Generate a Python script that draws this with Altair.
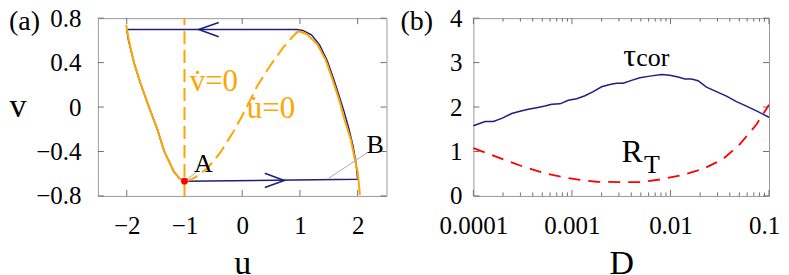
import altair as alt
import pandas as pd

# ------------------------------------------------------------------ data
panel_labels = ["(a)", "(b)"]

# panel (a): phase plane
u_ticks = [-2, -1, 0, 1, 2]
v_ticks = [-0.8, -0.4, 0, 0.4, 0.8]

# limit-cycle trajectory (in drawing order)
traj_u = [-1.0, 2.0, 1.97, 1.92, 1.85, 1.77, 1.68, 1.58, 1.47, 1.34, 1.20, 1.05, 0.95,
          -2.0, -1.97, -1.875, -1.76, -1.615, -1.47, -1.35, -1.18, -1.08, -1.0]
traj_v = [-0.667, -0.65, -0.5, -0.35, -0.2, -0.05, 0.1, 0.26, 0.42, 0.56, 0.65, 0.69, 0.697,
          0.697, 0.6, 0.4, 0.21, 0.0, -0.2, -0.4, -0.585, -0.645, -0.667]

# u-nullcline: outer branches (solid) and middle branch (dashed)
left_u = [-2.01, -1.96, -1.875, -1.76, -1.615, -1.47, -1.35, -1.18, -1.08, -1.0]
left_v = [0.74, 0.594, 0.40, 0.21, 0.0, -0.2, -0.4, -0.585, -0.645, -0.667]
mid_u = [-1.0, -0.9, -0.8, -0.6, -0.38, -0.15, 0.05, 0.25, 0.48, 0.71, 0.88, 0.95]
mid_v = [-0.667, -0.655, -0.628, -0.55, -0.41, -0.22, -0.03, 0.18, 0.37, 0.535, 0.637, 0.67]
right_u = [0.92, 1.0, 1.13, 1.30, 1.45, 1.57, 1.68, 1.77, 1.88, 1.94, 2.0, 2.04]
right_v = [0.672, 0.68, 0.653, 0.565, 0.42, 0.24, 0.065, -0.11, -0.29, -0.44, -0.585, -0.79]

# v-nullcline (vertical)
vnull_u = [-1.0, -1.0]
vnull_v = [-0.8, 0.8]

# direction arrows on the cycle
arrow_left_u, arrow_left_v = [-0.58], [0.697]
arrow_right_u, arrow_right_v = [0.56], [-0.66]

# fixed point A and leader lines
fixed_u, fixed_v = [-1.0], [-0.667]
leadA_u, leadA_v = [-1.0, -0.79], [-0.667, -0.585]
leadB_u, leadB_v = [1.5, 2.17], [-0.64, -0.41]

null_text = ["v\u0307=0", "u\u0307=0"]
null_u = [-0.91, 0.08]
null_v = [0.14, -0.10]
pt_text = ["A", "B"]
pt_u = [-0.834, 2.154]
pt_v = [-0.586, -0.417]

# panel (b): tau_cor and R_T versus D
D_ticks = [0.0001, 0.001, 0.01, 0.1]
D_minor = [0.0002, 0.0003, 0.0004, 0.0005, 0.0006, 0.0007, 0.0008, 0.0009,
           0.002, 0.003, 0.004, 0.005, 0.006, 0.007, 0.008, 0.009,
           0.02, 0.03, 0.04, 0.05, 0.06, 0.07, 0.08, 0.09]
b_yticks = [0, 1, 2, 3, 4]

tau_D = [1.0e-4, 1.314e-4, 1.595e-4, 1.940e-4, 2.449e-4, 2.973e-4, 3.609e-4, 4.390e-4,
         5.330e-4, 6.232e-4, 7.563e-4, 9.180e-4, 1.117e-3, 1.356e-3, 1.645e-3, 2.001e-3,
         2.428e-3, 2.840e-3, 3.312e-3, 4.030e-3, 4.892e-3, 6.177e-3, 8.108e-3, 9.851e-3,
         1.196e-2, 1.398e-2, 1.634e-2, 1.907e-2, 2.319e-2, 2.929e-2, 3.699e-2, 4.670e-2,
         5.899e-2, 7.450e-2, 0.1]
tau_val = [1.58, 1.674, 1.674, 1.746, 1.855, 1.906, 1.949, 1.986,
           2.022, 2.065, 2.072, 2.152, 2.188, 2.254, 2.348, 2.457,
           2.507, 2.536, 2.536, 2.601, 2.659, 2.696, 2.732, 2.717,
           2.674, 2.630, 2.630, 2.594, 2.449, 2.348, 2.246, 2.123,
           2.022, 1.913, 1.77]

rt_D = [1.0e-4, 1.314e-4, 2.095e-4, 3.342e-4, 5.330e-4, 8.50e-4, 1.206e-3, 1.780e-3,
        3.067e-3, 4.892e-3, 7.80e-3, 1.294e-2, 2.143e-2, 3.418e-2, 5.047e-2, 7.45e-2, 0.1]
rt_val = [1.074, 0.978, 0.807, 0.644, 0.511, 0.415, 0.363, 0.319,
          0.311, 0.311, 0.370, 0.467, 0.607, 0.830, 1.163, 1.607, 2.052]

b_text_big = ["\u03c4", "R"]
b_text_big_D = [3.31e-3, 3.19e-3]
b_text_big_val = [2.93, 0.76]
b_text_sub = ["cor", "T"]
b_text_sub_D = [4.5e-3, 5.4e-3]
b_text_sub_val = [2.93, 0.52]

# ------------------------------------------------------------------ style
W_A, W_B, H = 289, 296, 178
FONT = "Liberation Serif, Times New Roman, Times, serif"
BLUE = "#1f1f7f"
ORANGE = "#ffa500"
RED = "#ff0000"
FRAME = "#9a9a9a"
TICK = "#707070"
LEAD = "#aaaaaa"

xs_a = alt.Scale(domain=[-2.5, 2.5], nice=False, zero=False)
ys_a = alt.Scale(domain=[-0.8, 0.8], nice=False, zero=False)
xs_b = alt.Scale(type="log", domain=[0.0001, 0.1], nice=False)
ys_b = alt.Scale(domain=[0, 4], nice=False, zero=False)

ax_xa = alt.Axis(values=u_ticks, format="~g", ticks=False, domain=False, grid=False,
                 labelFlush=False, labelPadding=17.5, title="u", titleY=77.5,
                 titleBaseline="alphabetic")
ax_ya = alt.Axis(values=v_ticks, format="~g", ticks=False, domain=False, grid=False,
                 labelFlush=False, labelPadding=17, title="v", titleAngle=0, titleAlign="left",
                 titleBaseline="alphabetic", titleX=-89, titleY=98)
ax_xb = alt.Axis(values=D_ticks, format="~g", ticks=False, domain=False, grid=False,
                 labelFlush=False, labelPadding=17.5,
                 labelOffset={"condition": {"test": "datum.value > 0.05", "value": -5}, "value": 0},
                 title="D", titleY=77.5, titleBaseline="alphabetic")
ax_yb = alt.Axis(values=b_yticks, format="~g", ticks=False, domain=False, grid=False,
                 labelFlush=False, labelPadding=11.5, title="")


def frame(us, vs, xname="u", yname="v"):
    return pd.DataFrame({xname: us, yname: vs, "i": list(range(len(us)))})


def xa(field="u"):
    return alt.X(f"{field}:Q", scale=xs_a, axis=ax_xa)


def ya(field="v"):
    return alt.Y(f"{field}:Q", scale=ys_a, axis=ax_ya)


def xb(field="D"):
    return alt.X(f"{field}:Q", scale=xs_b, axis=ax_xb)


def yb(field="val"):
    return alt.Y(f"{field}:Q", scale=ys_b, axis=ax_yb)


# ------------------------------------------------------------------ panel (a)
utick_df = pd.DataFrame({"t": u_ticks})
vtick_df = pd.DataFrame({"t": v_ticks})
ticks_a = [
    alt.Chart(utick_df).mark_rule(color=TICK).encode(x=xa("t"), y=alt.value(H), y2=alt.value(H - 6)),
    alt.Chart(utick_df).mark_rule(color=TICK).encode(x=xa("t"), y=alt.value(0), y2=alt.value(6)),
    alt.Chart(vtick_df).mark_rule(color=TICK).encode(y=ya("t"), x=alt.value(0), x2=alt.value(6)),
    alt.Chart(vtick_df).mark_rule(color=TICK).encode(y=ya("t"), x=alt.value(W_A), x2=alt.value(W_A - 6)),
]

traj = alt.Chart(frame(traj_u, traj_v)).mark_line(color=BLUE, strokeWidth=1.5).encode(
    x=xa(), y=ya(), order="i:Q")
left_b = alt.Chart(frame(left_u, left_v)).mark_line(color=ORANGE, strokeWidth=2, clip=True).encode(
    x=xa(), y=ya(), order="i:Q")
right_b = alt.Chart(frame(right_u, right_v)).mark_line(color=ORANGE, strokeWidth=2, clip=True).encode(
    x=xa(), y=ya(), order="i:Q")
mid_b = alt.Chart(frame(mid_u, mid_v)).mark_line(color=ORANGE, strokeWidth=2, strokeDash=[14, 6]).encode(
    x=xa(), y=ya(), order="i:Q")
vnull = alt.Chart(frame(vnull_u, vnull_v)).mark_line(color=ORANGE, strokeWidth=2, strokeDash=[13, 6]).encode(
    x=xa(), y=ya(), order="i:Q")

arrow_l = alt.Chart(frame(arrow_left_u, arrow_left_v)).mark_point(
    shape="M 1 -0.72 L -1 0 L 1 0.72", filled=False, color=BLUE, strokeWidth=1.6, size=400, opacity=1
).encode(x=xa(), y=ya())
arrow_r = alt.Chart(frame(arrow_right_u, arrow_right_v)).mark_point(
    shape="M -1 -0.72 L 1 0 L -1 0.72", filled=False, color=BLUE, strokeWidth=1.6, size=380, opacity=1
).encode(x=xa(), y=ya())

leadA = alt.Chart(frame(leadA_u, leadA_v)).mark_line(color=LEAD, strokeWidth=1).encode(
    x=xa(), y=ya(), order="i:Q")
leadB = alt.Chart(frame(leadB_u, leadB_v)).mark_line(color=LEAD, strokeWidth=1).encode(
    x=xa(), y=ya(), order="i:Q")
fixed = alt.Chart(frame(fixed_u, fixed_v)).mark_circle(color=RED, size=45, opacity=1).encode(
    x=xa(), y=ya())

null_lab = alt.Chart(pd.DataFrame({"u": null_u, "v": null_v, "s": null_text})).mark_text(
    align="left", baseline="alphabetic", font=FONT, fontSize=31, color=ORANGE
).encode(x=xa(), y=ya(), text="s:N")
pt_lab = alt.Chart(pd.DataFrame({"u": pt_u, "v": pt_v, "s": pt_text})).mark_text(
    align="left", baseline="alphabetic", font=FONT, fontSize=26, color="black"
).encode(x=xa(), y=ya(), text="s:N")
lab_a = alt.Chart(pd.DataFrame({"s": [panel_labels[0]]})).mark_text(
    align="left", baseline="alphabetic", font=FONT, fontSize=28, color="black"
).encode(x=alt.value(-89), y=alt.value(11.5), text="s:N")

panel_a = alt.layer(
    traj, *ticks_a, left_b, right_b, mid_b, vnull, arrow_l, arrow_r,
    leadA, leadB, fixed, null_lab, pt_lab, lab_a
).properties(width=W_A, height=H)

# ------------------------------------------------------------------ panel (b)
dmaj_df = pd.DataFrame({"t": D_ticks})
dmin_df = pd.DataFrame({"t": D_minor})
ytb_df = pd.DataFrame({"t": b_yticks})
ticks_b = [
    alt.Chart(dmaj_df).mark_rule(color=TICK).encode(x=xb("t"), y=alt.value(H), y2=alt.value(H - 6)),
    alt.Chart(dmaj_df).mark_rule(color=TICK).encode(x=xb("t"), y=alt.value(0), y2=alt.value(6)),
    alt.Chart(dmin_df).mark_rule(color=TICK).encode(x=xb("t"), y=alt.value(H), y2=alt.value(H - 3.5)),
    alt.Chart(dmin_df).mark_rule(color=TICK).encode(x=xb("t"), y=alt.value(0), y2=alt.value(3.5)),
    alt.Chart(ytb_df).mark_rule(color=TICK).encode(y=yb("t"), x=alt.value(0), x2=alt.value(6)),
    alt.Chart(ytb_df).mark_rule(color=TICK).encode(y=yb("t"), x=alt.value(W_B), x2=alt.value(W_B - 6)),
]

tau_line = alt.Chart(pd.DataFrame({"D": tau_D, "val": tau_val, "i": list(range(len(tau_D)))})).mark_line(
    color=BLUE, strokeWidth=1.5).encode(x=xb(), y=yb(), order="i:Q")
rt_line = alt.Chart(pd.DataFrame({"D": rt_D, "val": rt_val, "i": list(range(len(rt_D)))})).mark_line(
    color=RED, strokeWidth=1.8, strokeDash=[12, 8]).encode(x=xb(), y=yb(), order="i:Q")

big_lab = alt.Chart(pd.DataFrame({"D": b_text_big_D, "val": b_text_big_val, "s": b_text_big})).mark_text(
    align="left", baseline="alphabetic", font=FONT, fontSize=32, color="black"
).encode(x=xb(), y=yb(), text="s:N")
sub_lab = alt.Chart(pd.DataFrame({"D": b_text_sub_D, "val": b_text_sub_val, "s": b_text_sub})).mark_text(
    align="left", baseline="alphabetic", font=FONT, fontSize=26, color="black"
).encode(x=xb(), y=yb(), text="s:N")
lab_b = alt.Chart(pd.DataFrame({"s": [panel_labels[1]]})).mark_text(
    align="left", baseline="alphabetic", font=FONT, fontSize=28, color="black"
).encode(x=alt.value(-73), y=alt.value(11.5), text="s:N")

panel_b = alt.layer(
    tau_line, *ticks_b, rt_line, big_lab, sub_lab, lab_b
).properties(width=W_B, height=H)

# ------------------------------------------------------------------ assemble
chart = alt.hconcat(panel_a, panel_b, spacing=87, bounds="flush").properties(
    padding={"left": 0, "top": -3, "right": 0, "bottom": 0}
).configure_view(
    stroke=FRAME, strokeWidth=1
).configure_axis(
    labelFont=FONT, labelFontSize=25, labelColor="black",
    titleFont=FONT, titleFontSize=34, titleFontWeight="normal", titleColor="black",
).configure_concat(spacing=87)

chart.save("out.html", embed_options={"renderer": "svg", "actions": False})
